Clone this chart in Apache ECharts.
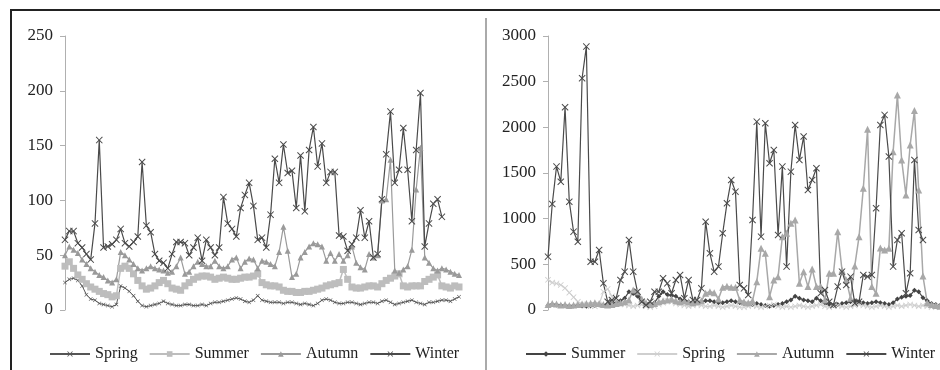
<!DOCTYPE html>
<html>
<head>
<meta charset="utf-8">
<script src="https://cdn.jsdelivr.net/npm/echarts@6/dist/echarts.min.js"></script>
<style>
  body { margin: 0; background: #fff; }
  #wrap { position: relative; width: 940px; height: 370px; overflow: hidden; }
  #left { position: absolute; left: 0; top: 0; width: 486px; height: 370px; }
  #right { position: absolute; left: 486px; top: 0; width: 454px; height: 370px; }
  .line { position: absolute; pointer-events: none; }
</style>
</head>
<body>
<div id="wrap">
  <div id="left"></div>
  <div id="right"></div>
  <div class="line" style="left:10px;top:9px;width:930px;height:2px;background:#222"></div>
  <div class="line" style="left:10px;top:9px;width:2px;height:361px;background:#222"></div>
  <div class="line" style="left:485px;top:18px;width:2px;height:352px;background:#aaa"></div>
</div>
<script>
// left panel (0-250)
const leftTicks = [0, 50, 100, 150, 200, 250];
const leftSpring = [25, 28, 29, 27, 22, 14, 10, 9, 6, 5, 4, 3, 5, 22, 20, 17, 13, 8, 4, 3,
  4, 5, 6, 8, 6, 5, 4, 4, 5, 5, 4, 4, 5, 4, 6, 7, 7, 8, 9, 10,
  11, 10, 8, 7, 9, 13, 9, 8, 7, 7, 7, 6, 7, 7, 6, 5, 6, 5, 4, 6,
  9, 10, 9, 7, 6, 6, 7, 7, 6, 5, 6, 7, 7, 6, 8, 9, 7, 5, 6, 7,
  8, 9, 7, 6, 5, 7, 7, 8, 9, 9, 8, 10, 12];
const leftSummer = [40, 44, 38, 32, 28, 24, 21, 19, 17, 15, 14, 12, 13, 38, 40, 38, 33, 27, 22, 19,
  20, 22, 25, 27, 24, 20, 19, 18, 22, 25, 28, 30, 31, 31, 30, 28, 29, 30, 29, 28,
  28, 29, 30, 30, 31, 33, 25, 23, 22, 22, 21, 18, 17, 17, 16, 16, 17, 17, 18, 19,
  20, 22, 23, 24, 25, 37, 28, 21, 20, 20, 21, 22, 22, 21, 24, 27, 29, 31, 33, 22,
  21, 22, 22, 22, 26, 28, 30, 32, 22, 21, 20, 22, 21];
const leftAutumn = [50, 58, 55, 52, 46, 42, 38, 35, 32, 30, 27, 25, 28, 53, 50, 46, 42, 38, 36, 38,
  40, 38, 37, 36, 34, 35, 40, 48, 33, 35, 40, 44, 42, 40, 40, 45, 40, 38, 40, 46,
  48, 38, 44, 47, 46, 38, 45, 44, 42, 40, 53, 76, 54, 30, 33, 48, 53, 58, 61, 60,
  58, 45, 52, 45, 51, 45, 50, 58, 43, 39, 37, 51, 48, 50, 100, 101, 137, 36, 34, 37,
  40, 55, 110, 148, 48, 43, 38, 36, 38, 37, 35, 33, 32];
const leftWinter = [64, 72, 72, 61, 57, 51, 46, 79, 155, 57, 58, 60, 64, 74, 61, 58, 62, 67, 135, 77,
  71, 51, 45, 43, 38, 51, 62, 62, 61, 50, 57, 66, 45, 64, 57, 50, 57, 103, 79, 74,
  67, 93, 105, 116, 95, 64, 66, 57, 87, 138, 116, 151, 125, 127, 93, 141, 90, 146, 167, 131,
  152, 116, 126, 126, 68, 67, 54, 60, 66, 91, 66, 81, 48, 51, 101, 142, 181, 116, 128, 166,
  128, 81, 146, 198, 58, 79, 97, 101, 85];

// right panel (0-3000)
const rightTicks = [0, 500, 1000, 1500, 2000, 2500, 3000];
const rightSummer = [50, 60, 55, 50, 45, 40, 45, 50, 45, 40, 45, 50, 55, 50, 60, 70, 80, 100, 130, 200,
  180, 150, 100, 70, 60, 80, 150, 200, 170, 160, 150, 120, 100, 90, 80, 80, 90, 100, 100, 90,
  80, 80, 90, 100, 90, 80, 70, 60, 60, 70, 60, 50, 40, 50, 60, 70, 90, 110, 150, 130,
  110, 100, 90, 130, 100, 80, 60, 50, 60, 70, 80, 90, 100, 90, 80, 70, 80, 90, 80, 70,
  60, 80, 120, 140, 150, 160, 215, 200, 135, 100, 70, 60, 50];
const rightSpring = [330, 300, 290, 275, 240, 190, 140, 90, 60, 50, 40, 40, 60, 200, 230, 150, 90, 70, 60, 50,
  40, 50, 60, 40, 30, 40, 60, 80, 100, 90, 70, 60, 50, 40, 50, 60, 50, 40, 40, 50,
  40, 30, 40, 50, 40, 30, 30, 40, 50, 40, 30, 40, 50, 60, 40, 30, 40, 30, 40, 50,
  40, 30, 40, 50, 60, 40, 30, 40, 50, 40, 30, 40, 50, 60, 50, 40, 30, 40, 50, 40,
  30, 40, 50, 40, 50, 60, 50, 40, 50, 40, 30, 40, 30];
const rightAutumn = [60, 70, 65, 55, 60, 50, 55, 60, 65, 70, 75, 80, 70, 60, 55, 60, 70, 80, 90, 110,
  219, 200, 120, 80, 60, 70, 90, 100, 110, 120, 100, 90, 100, 90, 80, 90, 100, 183, 200, 190,
  120, 250, 260, 250, 250, 110, 90, 80, 100, 310, 675, 621, 146, 329, 365, 803, 840, 949, 986, 292,
  420, 256, 449, 256, 256, 110, 402, 402, 858, 438, 329, 128, 482, 803, 1333, 1979, 256, 183, 679, 657,
  675, 1734, 2355, 1643, 1260, 1807, 2183, 1314, 372, 80, 60, 50, 40];
const rightWinter = [584, 1161, 1570, 1405, 2220, 1186, 858, 748, 2537, 2884, 529, 529, 657, 292, 91, 110, 128, 329, 420, 767,
  420, 200, 91, 55, 91, 200, 200, 347, 292, 183, 329, 384, 128, 329, 110, 110, 237, 967, 620, 420,
  475, 840, 1168, 1424, 1296, 274, 237, 164, 986, 2062, 803, 2044, 1607, 1752, 821, 1570, 475, 1515, 2026, 1643,
  1899, 1314, 1424, 1552, 183, 219, 91, 55, 256, 420, 274, 365, 73, 91, 384, 365, 384, 1114, 2026, 2136,
  1680, 475, 767, 840, 183, 402, 1643, 876, 767];

const days = [];
for (let i = 1; i <= 93; i++) days.push(String(i));

const cross = 'path://M0,1L1,0L5,4L9,0L10,1L6,5L10,9L9,10L5,6L1,10L0,9L4,5Z';
const font = 'Liberation Serif, Times New Roman, serif';

function line(name, data, color, symbol, size, width) {
  return {
    name,
    type: 'line',
    data,
    symbol,
    symbolSize: size,
    showAllSymbol: true,
    lineStyle: { color, width },
    itemStyle: { color },
  };
}

function makeOption(ticks, series, names, gridLeft, gridRight, legendLeft) {
  return {
    animation: false,
    legend: {
      data: names,
      left: legendLeft,
      top: 341,
      width: 440,
      itemWidth: 40,
      itemHeight: 7,
      itemGap: 11,
      textStyle: { fontFamily: font, fontSize: 16, color: '#222' },
    },
    grid: { left: gridLeft, right: gridRight, top: 36, bottom: 60, containLabel: false },
    xAxis: {
      type: 'category',
      data: days,
      boundaryGap: false,
      axisLine: { show: false },
      axisTick: { show: false },
      axisLabel: { show: false },
    },
    yAxis: {
      type: 'value',
      min: ticks[0],
      max: ticks[ticks.length - 1],
      interval: ticks[1] - ticks[0],
      axisLine: { show: true, lineStyle: { color: '#b0b0b0' } },
      axisTick: { show: true, length: 5, lineStyle: { color: '#b0b0b0' } },
      axisLabel: { margin: 12, fontFamily: font, fontSize: 17, color: '#222', formatter: (v) => String(v) },
      splitLine: { show: false },
    },
    series,
  };
}

const left = echarts.init(document.getElementById('left'));
left.setOption(makeOption(leftTicks, [
  line('Spring', leftSpring, '#555', cross, 4, 1),
  line('Summer', leftSummer, '#bdbdbd', 'rect', 7, 1.5),
  line('Autumn', leftAutumn, '#9a9a9a', 'triangle', 6, 1.2),
  line('Winter', leftWinter, '#4a4a4a', cross, 7, 1.2),
], ['Spring', 'Summer', 'Autumn', 'Winter'], 65, 27, 44));

const right = echarts.init(document.getElementById('right'));
right.setOption(makeOption(rightTicks, [
  line('Summer', rightSummer, '#444', 'diamond', 5, 1.2),
  line('Spring', rightSpring, '#cfcfcf', cross, 6, 1.2),
  line('Autumn', rightAutumn, '#a8a8a8', 'triangle', 7, 1.5),
  line('Winter', rightWinter, '#4a4a4a', cross, 7, 1.2),
], ['Summer', 'Spring', 'Autumn', 'Winter'], 62, 0, 34));
</script>
</body>
</html>
